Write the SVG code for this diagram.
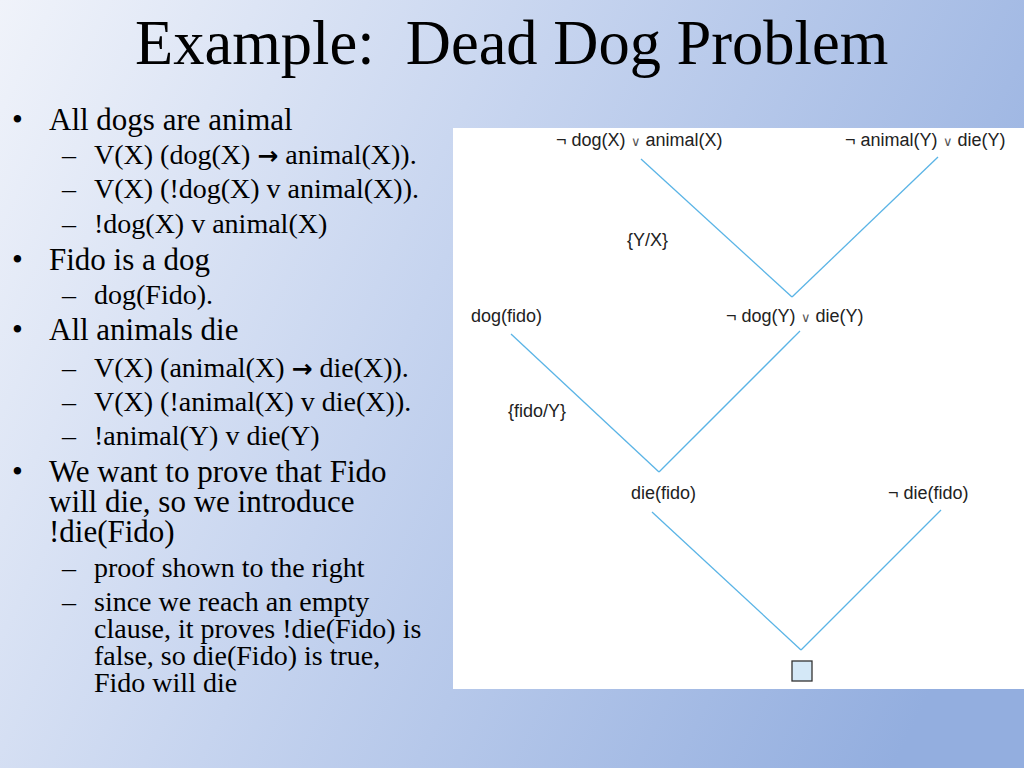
<svg xmlns="http://www.w3.org/2000/svg" width="1024" height="768" viewBox="0 0 1024 768">
  <defs>
    <linearGradient id="bg" gradientUnits="userSpaceOnUse" x1="0" y1="0" x2="1024" y2="500">
      <stop offset="0" stop-color="#f0f3fa"/>
      <stop offset="0.45" stop-color="#c6d4ef"/>
      <stop offset="1" stop-color="#93aedf"/>
    </linearGradient>
    <style>
      .title { font-family: "Liberation Serif", "Times New Roman", serif; font-size: 62.5px; fill: #000; }
      .l1 { font-family: "Liberation Serif", "Times New Roman", serif; font-size: 31px; fill: #000; }
      .l2 { font-family: "Liberation Serif", "Times New Roman", serif; font-size: 28px; fill: #000; }
      .arr { font-family: "DejaVu Sans", sans-serif; font-size: 25px; font-weight: bold; }
      .lbl { font-family: "Liberation Sans", Arial, sans-serif; font-size: 18px; fill: #222; }
      .or { font-size: 13px; fill: #555; }
      .edge { stroke: #5ab4e6; stroke-width: 1.3; fill: none; }
    </style>
  </defs>
  <rect x="0" y="0" width="1024" height="768" fill="url(#bg)"/>

  <text class="title" x="135" y="64" xml:space="preserve">Example:  Dead Dog Problem</text>

  <g id="bullets">
    <text class="l1" x="12" y="130">•</text>
    <text class="l1" x="49" y="130">All dogs are animal</text>
    <text class="l2" x="62" y="164">–</text>
    <text class="l2" x="94" y="164">V(X) (dog(X) <tspan class="arr">→</tspan> animal(X)).</text>
    <text class="l2" x="62" y="198">–</text>
    <text class="l2" x="94" y="198">V(X) (!dog(X) v animal(X)).</text>
    <text class="l2" x="62" y="233">–</text>
    <text class="l2" x="94" y="233">!dog(X) v animal(X)</text>
    <text class="l1" x="12" y="270">•</text>
    <text class="l1" x="49" y="270">Fido is a dog</text>
    <text class="l2" x="62" y="304">–</text>
    <text class="l2" x="94" y="304">dog(Fido).</text>
    <text class="l1" x="12" y="340">•</text>
    <text class="l1" x="49" y="340">All animals die</text>
    <text class="l2" x="62" y="377">–</text>
    <text class="l2" x="94" y="377">V(X) (animal(X) <tspan class="arr">→</tspan> die(X)).</text>
    <text class="l2" x="62" y="411">–</text>
    <text class="l2" x="94" y="411">V(X) (!animal(X) v die(X)).</text>
    <text class="l2" x="62" y="445">–</text>
    <text class="l2" x="94" y="445">!animal(Y) v die(Y)</text>
    <text class="l1" x="12" y="482">•</text>
    <text class="l1" x="49" y="482">We want to prove that Fido<tspan x="49" dy="30">will die, so we introduce</tspan><tspan x="49" dy="30">!die(Fido)</tspan></text>
    <text class="l2" x="62" y="577">–</text>
    <text class="l2" x="94" y="577">proof shown to the right</text>
    <text class="l2" x="62" y="611">–</text>
    <text class="l2" x="94" y="611">since we reach an empty<tspan x="94" dy="27">clause, it proves !die(Fido) is</tspan><tspan x="94" dy="27">false, so die(Fido) is true,</tspan><tspan x="94" dy="27">Fido will die</tspan></text>
  </g>

  <rect x="453" y="128" width="571" height="561" fill="#ffffff"/>

  <g id="connectors">
    <line class="edge" x1="641" y1="159" x2="792" y2="297"/>
    <line class="edge" x1="938" y1="157" x2="792" y2="297"/>
    <line class="edge" x1="511" y1="334" x2="659" y2="472"/>
    <line class="edge" x1="800" y1="331" x2="659" y2="472"/>
    <line class="edge" x1="652" y1="512" x2="801" y2="650"/>
    <line class="edge" x1="941" y1="510" x2="801" y2="650"/>
  </g>

  <g id="n1"><text class="lbl" x="556" y="146">¬ dog(X) <tspan class="or">∨</tspan> animal(X)</text></g>
  <g id="n2"><text class="lbl" x="845" y="146">¬ animal(Y) <tspan class="or">∨</tspan> die(Y)</text></g>
  <g id="s1"><text class="lbl" x="627" y="246">{Y/X}</text></g>
  <g id="n3"><text class="lbl" x="471" y="322">dog(fido)</text></g>
  <g id="n4"><text class="lbl" x="726" y="322">¬ dog(Y) <tspan class="or">∨</tspan> die(Y)</text></g>
  <g id="s2"><text class="lbl" x="508" y="417">{fido/Y}</text></g>
  <g id="n5"><text class="lbl" x="631" y="499">die(fido)</text></g>
  <g id="n6"><text class="lbl" x="888" y="499">¬ die(fido)</text></g>
  <g id="n7"><rect x="792" y="661" width="20" height="20" fill="#d4e8f7" stroke="#333" stroke-width="1.3"/></g>
</svg>
